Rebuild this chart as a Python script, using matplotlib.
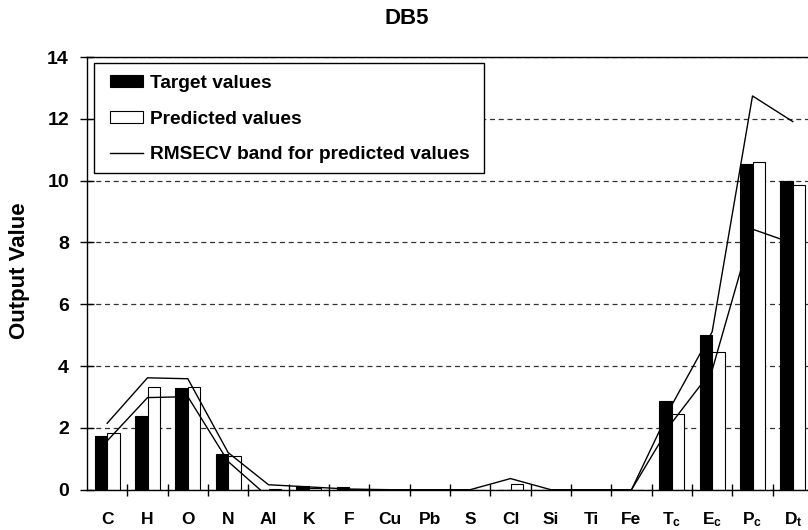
import numpy as np
import matplotlib
matplotlib.use('Agg')
import matplotlib.pyplot as plt
from matplotlib.patches import Rectangle

plt.rcParams['font.family'] = ['Liberation Sans', 'DejaVu Sans']
plt.rcParams['font.weight'] = 'bold'
plt.rcParams['mathtext.fontset'] = 'custom'
plt.rcParams['mathtext.rm'] = 'Liberation Sans:bold'
plt.rcParams['mathtext.it'] = 'Liberation Sans:bold'
plt.rcParams['mathtext.bf'] = 'Liberation Sans:bold'

# data
categories = ['C', 'H', 'O', 'N', 'Al', 'K', 'F', 'Cu', 'Pb', 'S', 'Cl', 'Si', 'Ti', 'Fe',
              r'$\mathrm{T_c}$', r'$\mathrm{E_c}$', r'$\mathrm{P_c}$', r'$\mathrm{D_t}$']
target = [1.73, 2.39, 3.29, 1.15, 0, 0.12, 0.08, 0, 0, 0, 0, 0, 0, 0, 2.87, 5.0, 10.53, 10.0]
predicted = [1.84, 3.32, 3.33, 1.10, 0.02, 0.05, 0.02, 0, 0, 0, 0.18, 0, 0, 0, 2.44, 4.47, 10.6, 9.85]
band_upper = [2.15, 3.62, 3.59, 1.20, 0.16, 0.09, 0.02, 0, 0, 0, 0.36, 0, 0, 0, 2.74, 5.11, 12.74, 11.91]
band_lower = [1.58, 2.98, 3.01, 0.91, -0.24, -0.2, -0.2, -0.2, -0.2, -0.2, -0.15, -0.2, -0.2, 0,
              2.17, 3.87, 8.43, 7.97]

x = np.arange(len(categories))
w = 0.31
W, H = 808, 530

fig = plt.figure(figsize=(W / 100, H / 100), dpi=100)
ax = fig.add_axes([87/W, 40.3/H, 726/W, 432.7/H])

b1 = ax.bar(x - w, target, width=w, align='edge', color='black', edgecolor='black',
            linewidth=0.8, zorder=2)
b2 = ax.bar(x, predicted, width=w, align='edge', color='white', edgecolor='black',
            linewidth=0.8, zorder=2)
l1, = ax.plot(x, band_upper, color='black', lw=1.0, zorder=3)
ax.plot(x, band_lower, color='black', lw=1.0, zorder=3)

ax.set_xlim(-0.5, len(categories) - 0.5)
ax.set_ylim(0, 14)
ax.set_yticks(np.arange(0, 15, 2))
ax.yaxis.grid(True, color='#333333', linestyle=(0, (4, 3)), lw=0.9)
ax.set_axisbelow(True)

ax.set_xticks(x)
ax.set_xticklabels(categories, fontsize=12.5, va='baseline')
ax.set_xticks(np.arange(0.5, len(categories) - 0.5, 1), minor=True)
ax.tick_params(axis='x', which='major', length=0, pad=25)
ax.tick_params(axis='x', which='minor', direction='inout', length=8.6, width=1)
ax.tick_params(axis='y', direction='inout', length=10, width=1, labelsize=14, pad=8)

for s in ax.spines.values():
    s.set_linewidth(1.0)

# legend box drawn separately so the inner padding can match
ax.add_patch(Rectangle((94/W, 1 - 173.3/H), 390/W, 110/H, transform=fig.transFigure,
                       facecolor='white', edgecolor='black', lw=1.0, zorder=5, clip_on=False))
leg = ax.legend([b1, b2, l1],
                ['Target values', 'Predicted values', 'RMSECV band for predicted values'],
                loc='upper left', bbox_to_anchor=(110/W, 1 - 75/H), bbox_transform=fig.transFigure,
                borderaxespad=0, borderpad=0, fontsize=13.8, frameon=False,
                handlelength=1.72, handleheight=0.62, handletextpad=0.36, labelspacing=0.97)
leg.set_zorder(6)

fig.text(0.504, 1 - 18/H, 'DB5', ha='center', va='center', fontsize=16, fontweight='bold')
fig.text(20/W, 1 - 271/H, 'Output Value', ha='center', va='center', rotation=90,
         fontsize=16, fontweight='bold')

fig.savefig('out.png', dpi=100)
